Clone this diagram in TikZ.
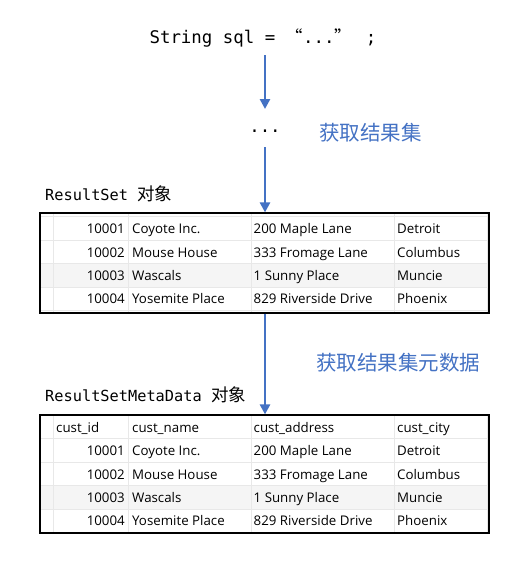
\documentclass[tikz,border=0pt]{standalone}
\usepackage{fontspec}
\setmainfont{Open Sans}
\newfontfamily\monof{DejaVu Sans Mono}
\newfontfamily\cjk{Noto Sans CJK SC}
\usetikzlibrary{arrows.meta}
\definecolor{arrowblue}{HTML}{4472C4}
\definecolor{gridc}{HTML}{E8E8E8}
\definecolor{shadec}{HTML}{F5F5F5}
\tikzset{
  arr/.style={draw=arrowblue, line width=2.6pt, -{Triangle[width=10pt,length=10pt]}},
  cell/.style={inner sep=0pt, anchor=base west, font=\fontsize{13.3}{13}\selectfont},
  num/.style={inner sep=0pt, anchor=base east, font=\fontsize{13.3}{13}\selectfont},
  bluelab/.style={inner sep=0pt, text=arrowblue, font=\cjk\fontsize{20.5}{21}\selectfont},
  title/.style={inner sep=0pt, anchor=west, font=\monof\fontsize{15.3}{16}\selectfont},
  tbox/.style={draw=black, line width=1.2pt, inner sep=0pt},
  grid/.style={draw=gridc, line width=1pt}
}
\begin{document}
\begin{tikzpicture}[x=1pt,y=-1pt]
\useasboundingbox[fill=white] (0,0) rectangle (528,562);

% code line
\node[inner sep=0pt, font=\monof\fontsize{17.4}{18}\selectfont] (code) at (263,38) {String sql = {\cjk “}...{\cjk ”} ;};
\node[inner sep=0pt, font=\monof\fontsize{17.4}{18}\selectfont] (dots) at (265,131) {...};
\node[bluelab, anchor=west] (lab1) at (319,133) {获取结果集};
\node[bluelab, anchor=west] (lab2) at (316,363) {获取结果集元数据};

% titles
\node[title] (t1title) at (45,194) {ResultSet {\cjk\fontsize{17.5}{18}\selectfont 对象}};
\node[title] (t2title) at (45,395) {ResultSetMetaData {\cjk\fontsize{17.5}{18}\selectfont 对象}};

% ---------- table 1 ----------
\fill[shadec] (40,263) rectangle (489,287);
\foreach \yy in {216,240,263,287,310} \draw[grid] (40,\yy) -- (489,\yy);
\foreach \xx in {53,128,251,394,487} \draw[grid] (\xx,213) -- (\xx,313);
\node[tbox, minimum width=449pt, minimum height=100pt] (t1) at (264.5,263) {};

\foreach \yy/\id/\nm/\ad/\ct in {233.5/10001/Coyote Inc./200 Maple Lane/Detroit,
  257/10002/Mouse House/333 Fromage Lane/Columbus,
  280.5/10003/Wascals/1 Sunny Place/Muncie,
  303.5/10004/Yosemite Place/829 Riverside Drive/Phoenix}{
  \node[num] at (125,\yy) {\id};
  \node[cell] at (132,\yy) {\nm};
  \node[cell] at (253.5,\yy) {\ad};
  \node[cell] at (397,\yy) {\ct};
}

% ---------- table 2 ----------
\fill[shadec] (40,485) rectangle (489,509);
\foreach \yy in {438,462,485,509,532} \draw[grid] (40,\yy) -- (489,\yy);
\foreach \xx in {53,128,251,394,487} \draw[grid] (\xx,415) -- (\xx,533);
\node[tbox, minimum width=449pt, minimum height=118pt] (t2) at (264.5,474) {};

\node[cell] at (56,432.5) {cust\_id};
\node[cell] at (132,432.5) {cust\_name};
\node[cell] at (253.5,432.5) {cust\_address};
\node[cell] at (397,432.5) {cust\_city};
\foreach \yy/\id/\nm/\ad/\ct in {455.5/10001/Coyote Inc./200 Maple Lane/Detroit,
  479.5/10002/Mouse House/333 Fromage Lane/Columbus,
  502.5/10003/Wascals/1 Sunny Place/Muncie,
  525.5/10004/Yosemite Place/829 Riverside Drive/Phoenix}{
  \node[num] at (125,\yy) {\id};
  \node[cell] at (132,\yy) {\nm};
  \node[cell] at (253.5,\yy) {\ad};
  \node[cell] at (397,\yy) {\ct};
}

% arrows
\coordinate (a1s) at (265,55);
\coordinate (a1e) at (265,109);
\coordinate (a2s) at (265,147);
\draw[arr] (a1s) -- (a1e);
\draw[arr] (a2s) -- (t1.north -| a2s);
\draw[arr] (t1.south -| a2s) -- (t2.north -| a2s);
\end{tikzpicture}
\end{document}
